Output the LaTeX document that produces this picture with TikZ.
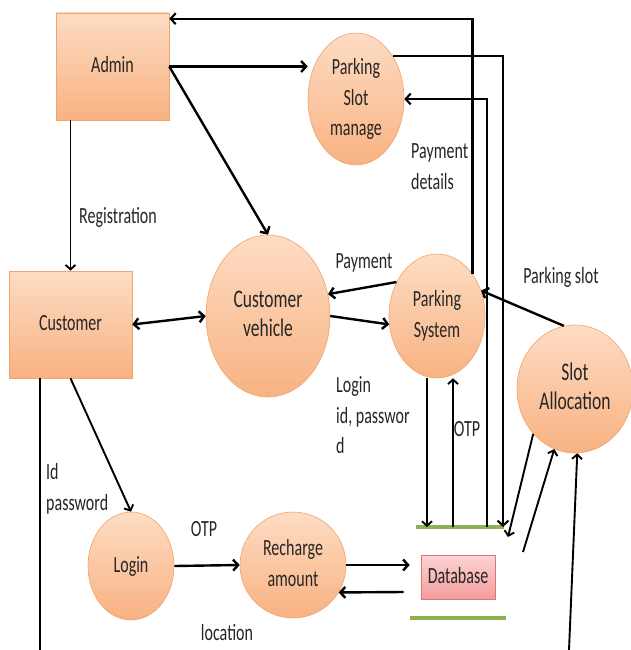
\documentclass[tikz,border=0pt]{standalone}
\usepackage{fontspec}
\setmainfont{Carlito}
\usepackage{graphicx}
\usetikzlibrary{arrows.meta,shapes.geometric}

\definecolor{peachtop}{HTML}{FDDCC3}
\definecolor{peachbot}{HTML}{F8B282}
\definecolor{peachline}{HTML}{EFA56C}
\definecolor{pinktop}{HTML}{FCD3D3}
\definecolor{pinkbot}{HTML}{F59C9C}
\definecolor{pinkline}{HTML}{D77A7A}
\definecolor{storegreen}{HTML}{8DB253}
\definecolor{inkgray}{HTML}{262626}

% tall narrow text, as in the drawing
\newcommand{\tallbox}[2][c]{\scalebox{1}[1.45]{\begin{tabular}{@{}#1@{}}#2\end{tabular}}}

\tikzset{
  entity/.style={rectangle, draw=peachline, line width=0.6pt, top color=peachtop, bottom color=peachbot, inner sep=0pt},
  process/.style={ellipse, draw=peachline, line width=0.6pt, top color=peachtop, bottom color=peachbot, inner sep=0pt},
  store/.style={rectangle, draw=pinkline, line width=0.6pt, top color=pinktop, bottom color=pinkbot, inner sep=0pt},
  note/.style={inner sep=0pt},
  bigtext/.style={font=\fontsize{17.5}{20.5}\selectfont},
  flow/.style={line width=2.4pt, -{Straight Barb[length=5pt,width=11pt]}},
  flowboth/.style={line width=2.4pt, {Straight Barb[length=5pt,width=11pt]}-{Straight Barb[length=5pt,width=11pt]}},
  loopflow/.style={line width=2.1pt, -{Straight Barb[length=5pt,width=11pt]}},
  thinflow/.style={line width=1.9pt, -{Straight Barb[length=4.5pt,width=10pt]}},
  pipe/.style={line width=1.6pt},
  storebar/.style={line width=4pt, draw=storegreen},
}

\begin{document}
\begin{tikzpicture}[x=1pt, y=-1pt, font=\fontsize{16}{21}\selectfont, text=inkgray]

    \useasboundingbox (0,0) rectangle (631,650);

    % Entities and processes
    \node[entity, minimum width=113pt, minimum height=107pt] (admin) at (112.5,66.5) {\tallbox{Admin}};
    \node[process, minimum width=96pt, minimum height=132pt] (slotmanage) at (356,99) {\tallbox{Parking\\Slot\\manage}};
    \node[entity, minimum width=123pt, minimum height=107pt] (customer) at (70.5,324.5) {\tallbox{Customer}};
    \node[process, bigtext, minimum width=124pt, minimum height=162pt] (vehicle) at (268,316) {\tallbox{Customer\\vehicle}};
    \node[process, minimum width=96pt, minimum height=124pt] (parking) at (437,316) {\tallbox{Parking\\System}};
    \node[process, bigtext, minimum width=116pt, minimum height=128pt] (allocation) at (575,389) {\tallbox{Slot\\Allocation}};
    \node[process, minimum width=86pt, minimum height=108pt] (login) at (131,566) {\tallbox{Login}};
    \node[process, minimum width=106pt, minimum height=106pt] (recharge) at (293,565) {\tallbox{Recharge\\amount}};
    \node[store, minimum width=74pt, minimum height=44pt] (database) at (458,577) {\tallbox{Database}};

    % Data store bars
    \foreach \x/\xx/\y in {416/504/527, 410/506/618} {
        \draw[storebar] (\x,\y) -- (\xx,\y);
    }
    \coordinate (dbA) at (427,527);
    \coordinate (dbB) at (453,527);
    \coordinate (dbC) at (487,527);
    \coordinate (dbD) at (503,527);

    % Free ends
    \coordinate (leftend) at (40,650);
    \coordinate (exA) at (508,537);
    \coordinate (exB) at (523,552);
    \coordinate (exC) at (569,650);

    % Labels
    \node[note] (lblreg) at (118,217) {\tallbox{Registration}};
    \node[note, anchor=west] (lblpaydet) at (411,168) {\tallbox[l]{Payment\\details}};
    \node[note] (lblpay) at (364,262) {\tallbox{Payment}};
    \node[note] (lblslot) at (561,277) {\tallbox{Parking slot}};
    \node[note, anchor=west] (lbllogin) at (336,417) {\tallbox[l]{Login\\id, passwor\\d}};
    \node[note] (lblotpA) at (467,430) {\tallbox{OTP}};
    \node[note] (lblotpB) at (204,530) {\tallbox{OTP}};
    \node[note, anchor=west] (lblid) at (46,489) {\tallbox[l]{Id\\password}};
    \node[note] (lblloc) at (227,634) {\tallbox{location}};

    % Admin flows
    \draw[flow] (admin.east) -- (admin.east -| slotmanage.west);
    \draw[flow] (admin.east) -- (vehicle.north);
    \draw[thinflow] (admin.south -| customer.north) -- (customer.north);

    % Customer flows
    \draw[flowboth] (customer.east) -- (vehicle.west);
    \draw[thinflow] (customer.south) -- (login.north);
    \draw[pipe] (leftend |- customer.south) -- (leftend);

    % Vehicle and parking system
    \draw[flow] (vehicle.east) -- (parking.190);
    \draw[flow] (parking.140) -- (vehicle.20);
    \draw[flow] (allocation.100) -- (parking.30);

    % Long loops over the top
    \draw[loopflow] (parking.50) |- ([yshift=-6pt]admin.north east);
    \draw[loopflow] (slotmanage.49) -| (dbD);
    \draw[loopflow] (dbC) |- (slotmanage.east);

    % Database side
    \draw[thinflow] (parking.south -| dbA) -- (dbA);
    \draw[thinflow] (dbB) -- (dbB |- parking.south);
    \draw[flow] (login.east) -- (recharge.west);
    \draw[flow] (recharge.east) -- ([shift={(-11,-12)}]database.west);
    \draw[flow] ([shift={(-17,15)}]database.west) -- (recharge.-31);

    % Slot allocation
    \draw[thinflow] (allocation.227) -- (exA);
    \draw[thinflow] (exB) -- (allocation.251);
    \draw[thinflow] (exC) -- (allocation.272);

\end{tikzpicture}
\end{document}
